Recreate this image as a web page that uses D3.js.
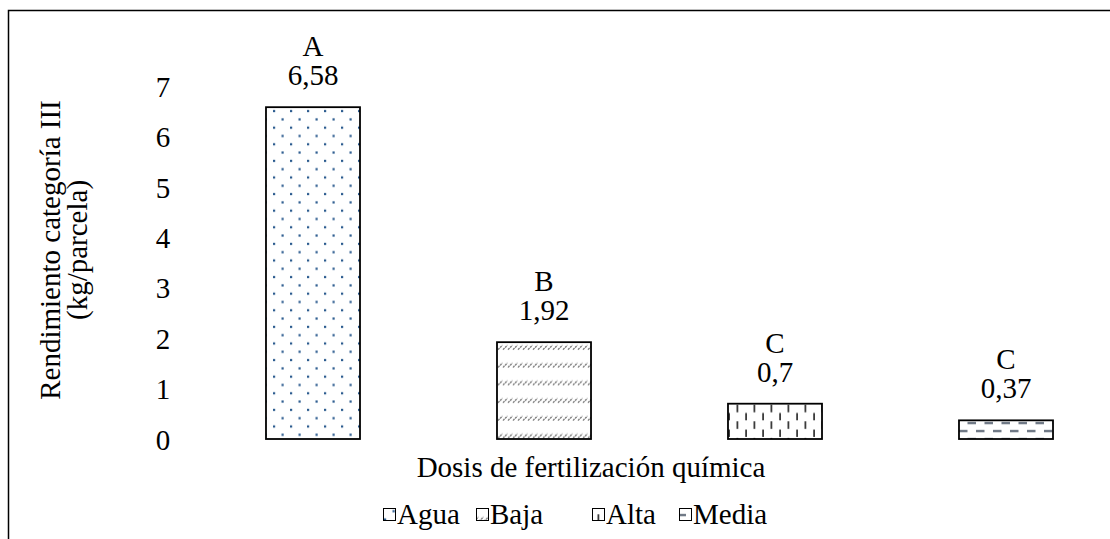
<!DOCTYPE html>
<html><head><meta charset="utf-8">
<script src="https://cdn.jsdelivr.net/npm/d3@7/dist/d3.min.js"></script>
<style>body{margin:0;background:#fff}svg{display:block}svg text{font-family:"Liberation Serif","Times New Roman",Times,serif !important;font-size:29px !important;fill:#000}</style>
</head><body>
<script>
const categories = ["Agua","Baja","Alta","Media"];
const values = [6.58, 1.92, 0.7, 0.37];
const valueLabels = ["6,58","1,92","0,7","0,37"];
const letters = ["A","B","C","C"];
const yTicks = [0,1,2,3,4,5,6,7];
const xTitle = "Dosis de fertilización química";
const yTitle = ["Rendimiento categoría III","(kg/parcela)"];

const W=1110,H=539;
const svg=d3.select("body").append("svg").attr("width",W).attr("height",H);
const defs=svg.append("defs");

const x=d3.scaleBand().domain(categories).range([197.5,1121.5]).paddingInner(0.593).paddingOuter(0.2965);
const y=d3.scaleLinear().domain([0,7]).range([439,86]);

function pat(id,i,w,h){const pp=defs.append("pattern").attr("id",id).attr("patternUnits","userSpaceOnUse")
  .attr("x",x(categories[i])).attr("y",y(values[i])).attr("width",w).attr("height",h);
  pp.append("rect").attr("width",w).attr("height",h).attr("fill","#fff");return pp;}
// Agua: staggered dots
let p=pat("pAgua",0,17,16.6);
p.append("rect").attr("x",7).attr("y",2.8).attr("width",2.2).attr("height",2.2).attr("fill","#2a5a8e");
p.append("rect").attr("x",15.5).attr("y",11.1).attr("width",2.2).attr("height",2.2).attr("fill","#2a5a8e");
p.append("rect").attr("x",-1.5).attr("y",11.1).attr("width",2.2).attr("height",2.2).attr("fill","#2a5a8e");
// Baja: rows of short diagonal dashes
p=pat("pBaja",1,15,17.7);
for(let k=-1;k<4;k++){const x0=k*5+1, y0=7.5;
 p.append("line").attr("x1",x0).attr("y1",y0).attr("x2",x0+4.5).attr("y2",y0-4.5).attr("stroke","#6f6f6f").attr("stroke-width",1.3).attr("stroke-dasharray","2.2,0.8");}
// Alta: staggered vertical dashes
p=pat("pAlta",2,17,16.6);
p.append("rect").attr("x",8.5).attr("y",1).attr("width",1.8).attr("height",7.6).attr("fill","#3a3a3a");
p.append("rect").attr("x",0.2).attr("y",9.3).attr("width",1.8).attr("height",7.3).attr("fill","#3a3a3a");
// Media: staggered horizontal dashes
p=pat("pMedia",3,17,16);
p.append("rect").attr("x",8.5).attr("y",1.8).attr("width",8.5).attr("height",1.8).attr("fill","#3d4a5c");
p.append("rect").attr("x",0).attr("y",9.8).attr("width",8.5).attr("height",1.8).attr("fill","#3d4a5c");
const fills=["url(#pAgua)","url(#pBaja)","url(#pAlta)","url(#pMedia)"];

svg.append("rect").attr("x",8.5).attr("y",10.5).attr("width",1200).attr("height",600).attr("fill","none").attr("stroke","#000").attr("stroke-width",1.5);

const ya=svg.append("g").attr("transform","translate(172,0)").call(d3.axisLeft(y).tickValues(yTicks).tickSize(0).tickPadding(0).tickFormat(d3.format("d")));
ya.select(".domain").remove();
ya.selectAll("text").attr("text-anchor","middle").attr("x",-9).attr("dy","0.35em");

svg.selectAll("rect.bar").data(categories).enter().append("rect").attr("class","bar")
 .attr("x",d=>x(d)).attr("width",x.bandwidth())
 .attr("y",(d,i)=>y(values[i])).attr("height",(d,i)=>y(0)-y(values[i]))
 .attr("fill",(d,i)=>fills[i]).attr("stroke","#000").attr("stroke-width",1.8);

svg.selectAll("text.val").data(categories).enter().append("text").attr("class","val")
 .attr("x",d=>x(d)+x.bandwidth()/2).attr("y",(d,i)=>y(values[i])-22)
 .attr("text-anchor","middle").text((d,i)=>valueLabels[i]);
svg.selectAll("text.let").data(categories).enter().append("text").attr("class","let")
 .attr("x",d=>x(d)+x.bandwidth()/2).attr("y",(d,i)=>y(values[i])-51)
 .attr("text-anchor","middle").text((d,i)=>letters[i]);

svg.append("text").attr("x",591).attr("y",477).attr("text-anchor","middle").text(xTitle);

const yt=svg.append("text").attr("transform","translate(0,250) rotate(-90)").attr("text-anchor","middle");
yt.append("tspan").attr("x",0).attr("y",60).text(yTitle[0]);
yt.append("tspan").attr("x",0).attr("y",87).text(yTitle[1]);

const lx=[383,476,592,679];
categories.forEach((c,i)=>{
  const g=svg.append("g").attr("transform",`translate(${lx[i]},508)`);
  g.append("rect").attr("x",0.5).attr("y",0.5).attr("width",12).attr("height",12).attr("fill",fills[i]).attr("stroke","#000").attr("stroke-width",1);
  g.append("text").attr("x",14).attr("y",16).text(c);
});
</script>
</body></html>
